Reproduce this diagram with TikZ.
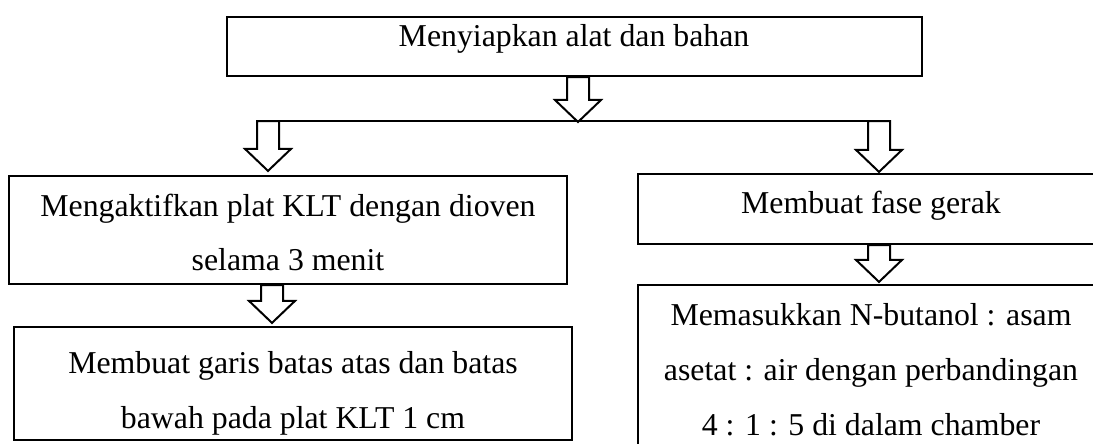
\documentclass[tikz,border=0pt]{standalone}
\usepackage{fontspec}
\setmainfont{Liberation Serif}
\usetikzlibrary{calc}
\newcommand\hollowarrow[2]{%
  \draw[blk] let \p1=(#1), \p2=(#2) in
    (\x1-11pt,\y1) -- (\x1-11pt,\y2+22pt) -- (\x1-23pt,\y2+22pt) -- (\x1,\y2)
    -- (\x1+23pt,\y2+22pt) -- (\x1+11pt,\y2+22pt) -- (\x1+11pt,\y1) -- cycle;}
\begin{document}
\begin{tikzpicture}[x=1pt,y=-1pt,
  box/.style={draw, line width=2.2pt, inner sep=0pt},
  txt/.style={anchor=base, inner sep=0pt, font=\fontsize{31.8}{54}\selectfont},
  blk/.style={draw, line width=2pt, line join=miter}]
\useasboundingbox (0,0) rectangle (1093,444);
\clip (0,0) rectangle (1093,444);
% boxes
\node[box, minimum width=695pt, minimum height=59pt] (b0) at (574.5,46.5) {};
\node[box, minimum width=558pt, minimum height=108pt] (b1) at (288,230) {};
\node[box, minimum width=558pt, minimum height=113pt] (b2) at (293,383.5) {};
\node[box, minimum width=466pt, minimum height=70pt] (b3) at (871,209) {};
\node[box, minimum width=466pt, minimum height=190pt] (b4) at (871,380) {};
% texts
\node[txt] (t0) at (574,46.7) {Menyiapkan alat dan bahan};
\node[txt] (t1a) at (288,216.7) {Mengaktifkan plat KLT dengan dioven};
\node[txt] (t1b) at (288,270) {selama 3 menit};
\node[txt] (t2a) at (293,373.3) {Membuat garis batas atas dan batas};
\node[txt] (t2b) at (293,428.3) {bawah pada plat KLT 1 cm};
\node[txt] (t3) at (871,213) {Membuat fase gerak};
\node[txt] (t4a) at (871,325.7) {Memasukkan N-butanol : asam};
\node[txt] (t4b) at (871,380) {asetat : air dengan perbandingan};
\node[txt] (t4c) at (871,435) {4 : 1 : 5 di dalam chamber};
% junction points
\coordinate (jm) at (578,122);
\coordinate (jl) at (268,121);
\coordinate (jr) at (879,121);
\coordinate (xl) at (272,300);
% connectors
\hollowarrow{b0.south -| jm}{jm}
\draw[line width=2pt] ($(jl)+(-11,0)$) -- ($(jr)+(11,0)$);
\hollowarrow{jl}{$(b1.north -| jl)+(0,-4)$}
\hollowarrow{jr}{$(b3.north -| jr)+(0,-1)$}
\hollowarrow{b1.south -| xl}{$(b2.north -| xl)+(0,-3)$}
\hollowarrow{b3.south -| jr}{$(b4.north -| jr)+(0,-2)$}
\end{tikzpicture}
\end{document}
